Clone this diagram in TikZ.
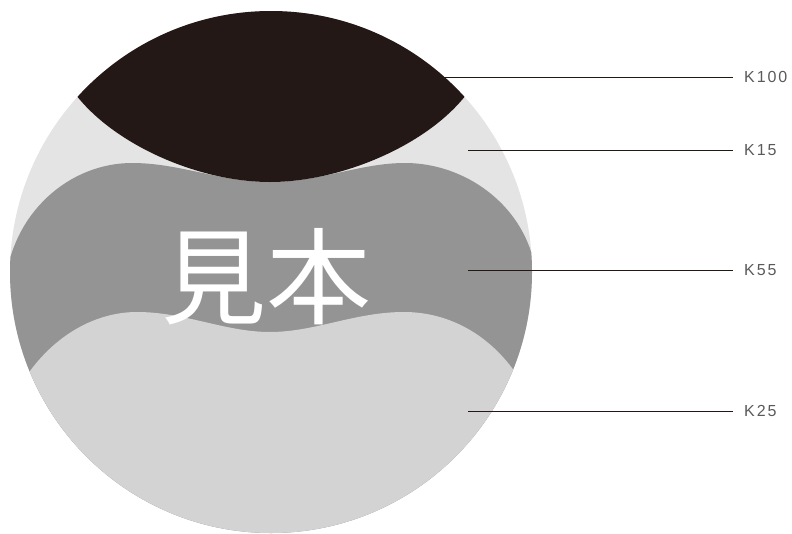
\documentclass[tikz,border=0pt]{standalone}
\usepackage{fontspec}
\setmainfont{Liberation Sans}
\newfontfamily\cjk{Noto Sans CJK JP}
\newfontfamily\lblfont[LetterSpace=12]{Liberation Sans}
\definecolor{kblack}{HTML}{231815}
\definecolor{kfifteen}{HTML}{E4E4E4}
\definecolor{kfiftyfive}{HTML}{949494}
\definecolor{ktwentyfive}{HTML}{D3D3D3}
\definecolor{lbltext}{HTML}{5A5A5A}
\tikzset{
  lbl/.style={anchor=west, inner xsep=0pt, inner ysep=1pt, text=lbltext, font=\lblfont\fontsize{16}{18}\selectfont},
  leader/.style={draw=kblack, line width=0.9pt, shorten >=11pt},
}
\begin{document}
\begin{tikzpicture}[x=1pt,y=-1pt]
\useasboundingbox (0,0) rectangle (792,533);
\coordinate (ctr) at (271,272);
\begin{scope}
  \clip (ctr) circle[radius=261];
  \fill[kfifteen] (0,0) rectangle (560,560);
  % K55 band
  \fill[kfiftyfive] (5,285) .. controls (12,212) and (70,163) .. (132,163)
     .. controls (180,163) and (220,182) .. (270,182)
     .. controls (320,182) and (360,163) .. (405,163)
     .. controls (470,163) and (534,212) .. (537,285)
     -- (560,560) -- (-10,560) -- cycle;
  % K25 bottom
  \fill[ktwentyfive] (20,386) .. controls (50,336) and (95,312) .. (137,312)
     .. controls (185,312) and (225,332) .. (270,332)
     .. controls (315,332) and (355,312) .. (404,312)
     .. controls (450,312) and (495,336) .. (524,386)
     -- (560,560) -- (-10,560) -- cycle;
  % K100 lens
  \fill[kblack] (76,95) .. controls (116,146) and (200,182) .. (270,182)
     .. controls (340,182) and (426,146) .. (466,95)
     -- (466,-10) -- (76,-10) -- cycle;
\end{scope}
\node[text=white, inner sep=0pt, font=\cjk\fontsize{105}{110}\selectfont] (mihon) at (266,277) {見本};
% leaders and labels
\coordinate (a1) at (440,77);
\coordinate (a2) at (468,150);
\coordinate (a3) at (468,270);
\coordinate (a4) at (468,411);
\node[lbl] (l1) at (744,77) {K100};
\node[lbl] (l2) at (744,150) {K15};
\node[lbl] (l3) at (744,270) {K55};
\node[lbl] (l4) at (744,411) {K25};
\draw[leader] (a1) -- (l1.west);
\draw[leader] (a2) -- (l2.west);
\draw[leader] (a3) -- (l3.west);
\draw[leader] (a4) -- (l4.west);
\end{tikzpicture}
\end{document}
